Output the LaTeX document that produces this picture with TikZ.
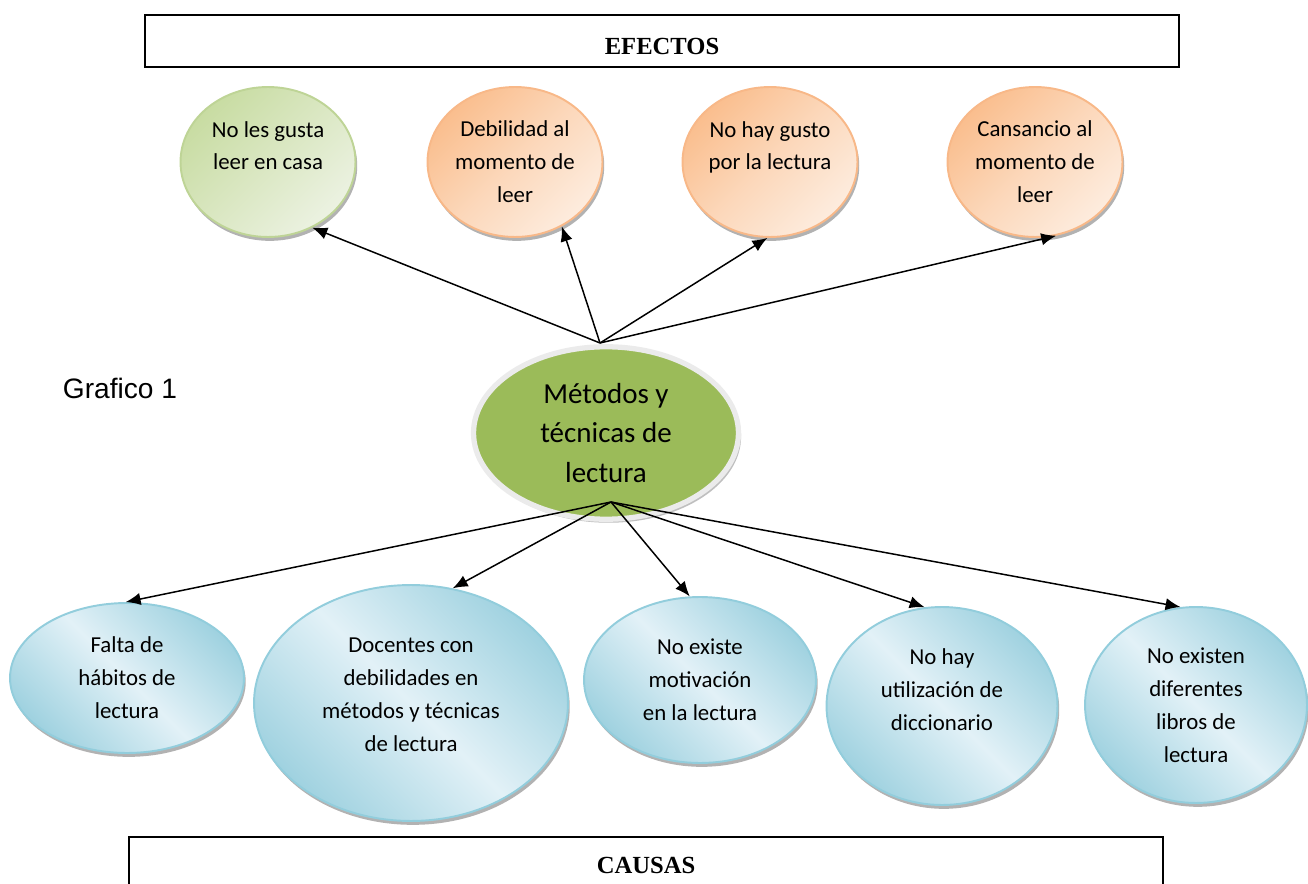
\documentclass[tikz,border=0pt]{standalone}
\usepackage{fontspec}
\setmainfont{Carlito}
\newfontfamily\arialfont{Liberation Sans}
\newfontfamily\titlefont{Liberation Serif}
\usepackage{tikz}
\usetikzlibrary{positioning,arrows.meta,calc,shadows,shapes.geometric}

\definecolor{causeedge}{RGB}{146,205,220}
\definecolor{causedark}{RGB}{160,210,224}
\definecolor{causelight}{RGB}{226,241,247}
\definecolor{effectedge}{RGB}{248,184,136}
\definecolor{effectdark}{RGB}{250,190,142}
\definecolor{effectlight}{RGB}{253,236,222}
\definecolor{mildedge}{RGB}{190,212,150}
\definecolor{milddark}{RGB}{200,220,162}
\definecolor{mildlight}{RGB}{236,242,226}
\definecolor{coregreen}{RGB}{155,187,89}

\tikzset{
    title/.style = {
        draw,
        shape=rectangle,
        line width=1.2pt,
        minimum width=20.7cm,
        font=\titlefont\bfseries\fontsize{14}{16}\selectfont
    },
    bubble/.style = {
        shape=ellipse,
        line width=1.1pt,
        inner sep=0pt,
        align=center,
        drop shadow={shadow xshift=1pt, shadow yshift=-2.2pt, fill=black!55, opacity=0.55},
        font=\fontsize{13}{18.7}\selectfont
    },
    cause/.style = {
        bubble,
        draw=causeedge,
        top color=causedark,
        bottom color=causedark,
        middle color=causelight,
        shading angle=-45
    },
    effect/.style = {
        bubble,
        draw=effectedge,
        top color=effectdark,
        bottom color=effectlight,
        middle color=effectlight!55!effectdark,
        shading angle=45,
        minimum width=3.5cm,
        minimum height=3cm
    },
    mild/.style = {
        effect,
        draw=mildedge,
        top color=milddark,
        bottom color=mildlight,
        middle color=mildlight!50!milddark,
        shading angle=45
    },
    core/.style = {
        shape=ellipse,
        fill=coregreen,
        draw=black!8,
        line width=3pt,
        inner sep=0pt,
        align=center,
        minimum width=5.3cm,
        minimum height=3.45cm,
        drop shadow={shadow xshift=1.5pt, shadow yshift=-2pt, fill=black!50, opacity=0.5},
        font=\fontsize{16.5}{22.7}\selectfont
    },
    >={Latex[length=8.5pt,width=7pt]},
}

\begin{document}
\begin{tikzpicture}[x=0.02cm, y=-0.02cm]
    \clip (0,0) rectangle (1308,884);

    \node[title, minimum height=1.04cm, text height=15pt] (efectos) at (662, 41)  {EFECTOS};
    \node[title, minimum height=1.12cm, anchor=north,
          minimum width=20.68cm]                        (causas)  at (646, 836) {CAUSAS};

    \node[font=\arialfont\fontsize{16}{19}\selectfont] (grafico) at (120, 388) {Grafico 1};

    % efectos
    \node[mild]   (casa)      at (268,  162) {No les gusta\\leer en casa\\~};
    \node[effect] (debilidad) at (515,  162) {Debilidad al\\momento de\\leer};
    \node[effect] (gusto)     at (770,  162) {No hay gusto\\por la lectura\\~};
    \node[effect] (cansancio) at (1035, 162) {Cansancio al\\momento de\\leer};

    \node[core]   (metodos)   at (606,  433) {Métodos y\\técnicas de\\lectura};

    % causas
    \node[cause, minimum width=4.68cm, minimum height=3cm]    (habitos)     at (127,  678) {Falta de\\hábitos de\\lectura};
    \node[cause, minimum width=6.28cm, minimum height=4.72cm] (docentes)    at (411,  703) {Docentes con\\debilidades en\\métodos y técnicas\\de lectura\\[-9pt]~};
    \node[cause, minimum width=4.64cm, minimum height=3.32cm] (motivacion)  at (700,  680) {No existe\\motivación\\en la lectura};
    \node[cause, minimum width=4.62cm, minimum height=3.96cm] (diccionario) at (942,  706) {No hay\\utilización de\\diccionario\\~};
    \node[cause, minimum width=4.44cm, minimum height=3.92cm] (libros)      at (1196, 705) {No existen\\diferentes\\libros de\\lectura};

    \coordinate (hubtop) at (600, 343);
    \coordinate (hubbot) at (611, 502);

    \path[draw, ->, line width=0.85pt] (hubtop) -- (casa.304);
    \path[draw, ->, line width=0.85pt] (hubtop) -- (debilidad.306);
    \path[draw, ->, line width=0.85pt] (hubtop) -- (gusto.268);
    \path[draw, ->, line width=0.85pt] (hubtop) -- (cansancio.286);

    \path[draw, ->, line width=0.85pt] (hubbot) -- (habitos.91);
    \path[draw, ->, line width=0.85pt] (hubbot) -- (docentes.70);
    \path[draw, ->, line width=0.85pt] (hubbot) -- (motivacion.97);
    \path[draw, ->, line width=0.85pt] (hubbot) -- (diccionario.100);
    \path[draw, ->, line width=0.85pt] (hubbot) -- (libros.99);
\end{tikzpicture}
\end{document}
